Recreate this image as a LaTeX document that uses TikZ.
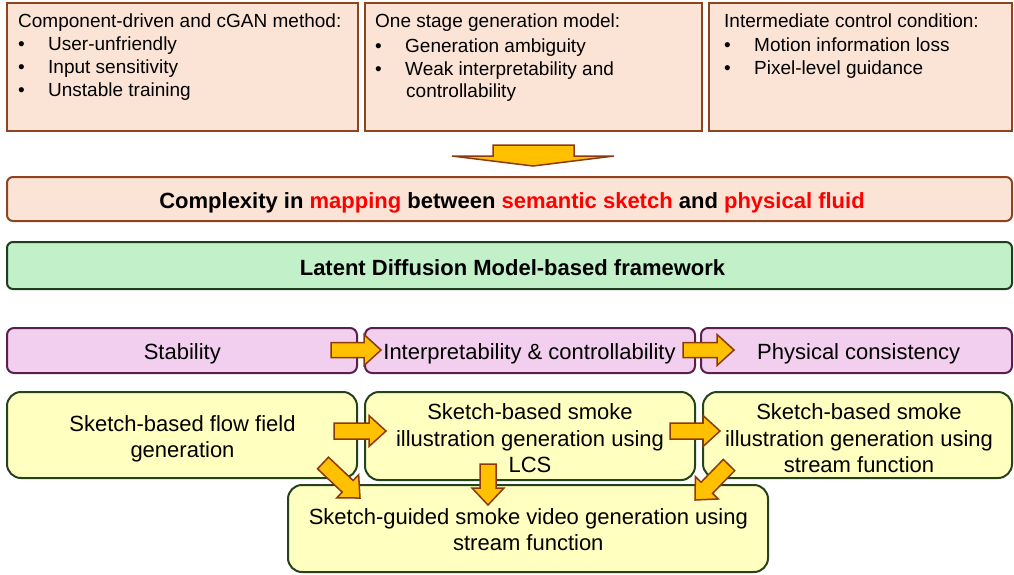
\documentclass[tikz,border=0pt]{standalone}
\usepackage{fontspec}
\setmainfont{Liberation Sans}
\usetikzlibrary{calc}
\definecolor{orfill}{HTML}{FBE4D6}
\definecolor{orline}{HTML}{8C4520}
\definecolor{grfill}{HTML}{C2F0C8}
\definecolor{grline}{HTML}{1E3F1E}
\definecolor{pufill}{HTML}{F2CEEF}
\definecolor{puline}{HTML}{5A1E50}
\definecolor{yefill}{HTML}{FFFFC0}
\definecolor{yeline}{HTML}{24431C}
\definecolor{arfill}{HTML}{FFC000}
\definecolor{arline}{HTML}{8B3A0E}
\definecolor{hired}{HTML}{FF0000}
\tikzset{
  box/.style={draw, line width=2pt, inner sep=0pt},
  topbox/.style={box, draw=orline, fill=orfill, minimum height=128pt},
  bandbox/.style={box, rounded corners=6pt, minimum height=44pt, minimum width=1005pt},
  pubox/.style={box, draw=puline, fill=pufill, rounded corners=7pt, minimum height=45pt},
  yebox/.style={box, draw=yeline, fill=yefill, rounded corners=14pt, minimum height=86pt},
  txt/.style={anchor=base west, inner sep=0pt, font=\fontsize{19}{23}\selectfont},
  lbl/.style={anchor=base, inner sep=0pt, font=\fontsize{22}{26.5}\selectfont},
  blbl/.style={lbl, font=\fontsize{22}{26.5}\selectfont\bfseries},
  barrow/.style={draw=arline, fill=arfill, line width=1.5pt, line join=miter},
}
\newcommand{\blockarrow}[5]{%
  \coordinate (#1-h) at ($(#3)!17pt!(#2)$);
  \draw[barrow] ($(#2)!#4!90:(#3)$) -- ($(#1-h)!#4!90:(#3)$) -- ($(#1-h)!#5!90:(#3)$)
    -- (#3) -- ($(#1-h)!#5!-90:(#3)$) -- ($(#1-h)!#4!-90:(#3)$) -- ($(#2)!#4!-90:(#3)$) -- cycle;}
\newcommand{\bul}{\makebox[30pt][l]{\textbullet}}
\begin{document}
\begin{tikzpicture}[x=1pt,y=-1pt]
\useasboundingbox (0,0) rectangle (1014,574);
% top boxes
\node[topbox, minimum width=351pt] (t1) at (182.5,67) {};
\node[topbox, minimum width=337pt] (t2) at (533.5,67) {};
\node[topbox, minimum width=303pt] (t3) at (860.5,67) {};
\node[txt] (t1a) at (18,27.5) {Component-driven and cGAN method:};
\node[txt] (t1b) at (18,50.5) {\bul User-unfriendly};
\node[txt] (t1c) at (18,73.5) {\bul Input sensitivity};
\node[txt] (t1d) at (18,96) {\bul Unstable training};
\node[txt] (t2a) at (375,27.5) {One stage generation model:};
\node[txt] (t2b) at (375,52) {\bul Generation ambiguity};
\node[txt] (t2c) at (375,75) {\bul Weak interpretability and};
\node[txt] (t2d) at (375,97) {\hspace*{31pt}controllability};
\node[txt] (t3a) at (724,27.5) {Intermediate control condition:};
\node[txt] (t3b) at (724,51) {\bul Motion information loss};
\node[txt] (t3c) at (724,74) {\bul Pixel-level guidance};
% big down arrow
\draw[barrow] (493,145) -- (574,145) -- (574,156) -- (614,156) -- (533,166) -- (452,156) -- (493,156) -- cycle;
% bands
\node[bandbox, draw=orline, fill=orfill] (cx) at (509.5,199) {};
\node[blbl] (cxt) at (512,208)
  {Complexity in \textcolor{hired}{mapping} between \textcolor{hired}{semantic sketch} and \textcolor{hired}{physical fluid}};
\node[bandbox, draw=grline, fill=grfill, minimum height=47pt] (ld) at (509.5,265.5) {};
\node[blbl] (ldt) at (512.5,275.5) {Latent Diffusion Model-based framework};
% purple row
\node[pubox, minimum width=350pt] (p1) at (182,350.5) {};
\node[pubox, minimum width=330pt] (p2) at (530,350.5) {};
\node[pubox, minimum width=311pt] (p3) at (856.5,350.5) {};
\node[lbl] (p1t) at (182.3,359) {Stability};
\node[lbl] (p2t) at (529.5,359) {Interpretability \& controllability};
\node[lbl] (p3t) at (858.7,359) {Physical consistency};
% yellow row
\node[yebox, minimum width=350pt] (y1) at (182,435) {};
\node[yebox, minimum width=330pt, minimum height=88pt] (y2) at (530,436) {};
\node[yebox, minimum width=309pt] (y3) at (857.5,435) {};
\node[yebox, minimum width=480pt, minimum height=87pt] (y4) at (528,528.5) {};
\node[lbl] (y1a) at (182.5,431) {Sketch-based flow field};
\node[lbl] (y1b) at (182.5,457.5) {generation};
\node[lbl] (y2a) at (530,419.5) {Sketch-based smoke};
\node[lbl] (y2b) at (530,446) {illustration generation using};
\node[lbl] (y2c) at (530,472.5) {LCS};
\node[lbl] (y3a) at (859,419.5) {Sketch-based smoke};
\node[lbl] (y3b) at (859,446) {illustration generation using};
\node[lbl] (y3c) at (859,472.5) {stream function};
\node[lbl] (y4a) at (528.3,524) {Sketch-guided smoke video generation using};
\node[lbl] (y4b) at (528.3,550.5) {stream function};
% arrows
\coordinate (a1t) at (331,350); \coordinate (a1p) at (381,350);
\coordinate (a2t) at (683,350); \coordinate (a2p) at (734,350);
\coordinate (b1t) at (334,431); \coordinate (b1p) at (386,431);
\coordinate (b2t) at (670,431); \coordinate (b2p) at (720,431);
\coordinate (c1t) at (323,463); \coordinate (c1p) at (360,498);
\coordinate (c2t) at (488,464); \coordinate (c2p) at (488,505);
\coordinate (c3t) at (729,465); \coordinate (c3p) at (695,500);
\blockarrow{a1}{a1t}{a1p}{7.5pt}{15.5pt}
\blockarrow{a2}{a2t}{a2p}{7.5pt}{15.5pt}
\blockarrow{b1}{b1t}{b1p}{8pt}{15.5pt}
\blockarrow{b2}{b2t}{b2p}{8pt}{15.5pt}
\blockarrow{c1}{c1t}{c1p}{8pt}{16pt}
\blockarrow{c2}{c2t}{c2p}{8pt}{16pt}
\blockarrow{c3}{c3t}{c3p}{8pt}{16pt}
\end{tikzpicture}
\end{document}
